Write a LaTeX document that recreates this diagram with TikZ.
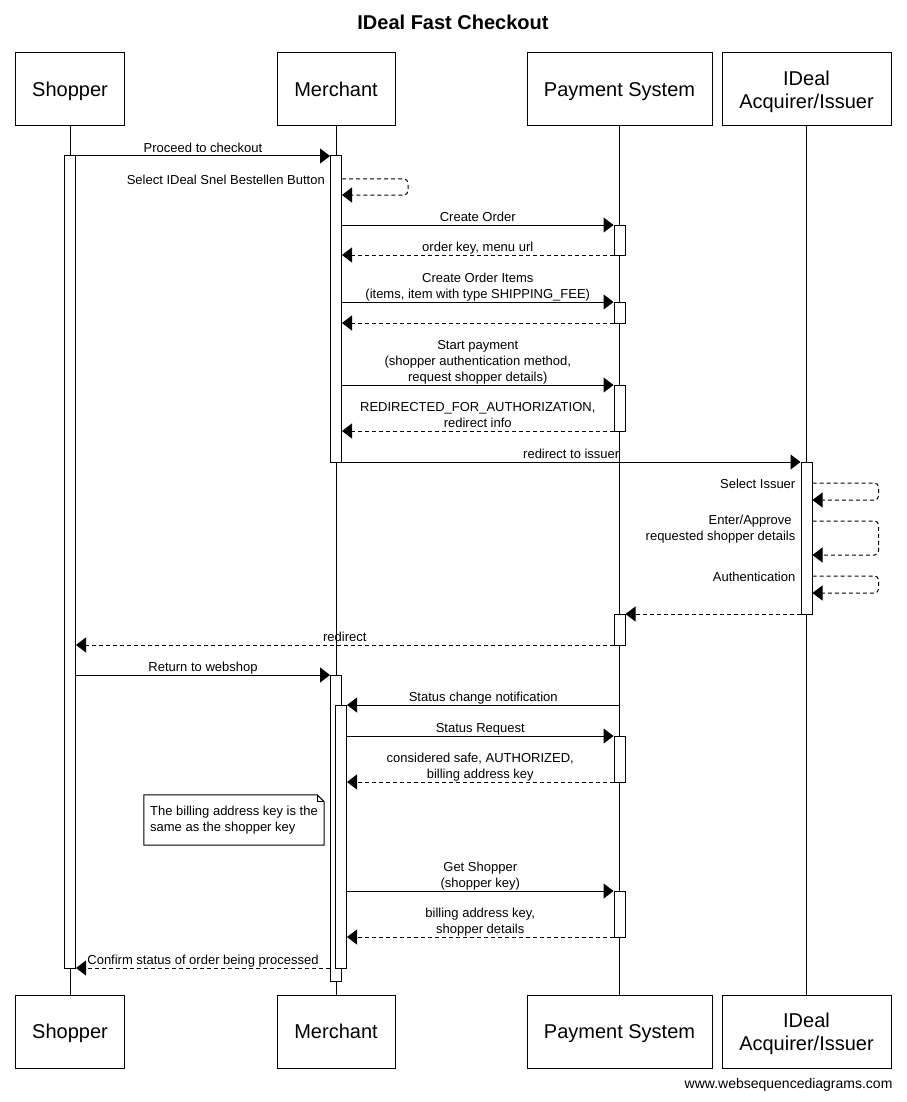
\documentclass[tikz,border=0pt]{standalone}
\usepackage{fontspec}
\setmainfont{Liberation Sans}
\usetikzlibrary{arrows.meta}
\usetikzlibrary{shapes}
\tikzset{
	actor/.style={draw, line width=1pt, minimum height=73pt, inner sep=0pt, align=center, font=\fontsize{20}{23}\selectfont},
	oneline/.style={text height=14.7pt, text depth=0.3pt},
	twoline/.style={yshift=-2pt},
	life/.style={line width=0.8pt},
	actbar/.style={draw, fill=white, line width=1pt, minimum width=11pt, inner sep=0pt},
	msg/.style={->, line width=1pt},
	ret/.style={->, line width=1pt, dash pattern=on 4pt off 3pt},
	lbl/.style={font=\fontsize{13}{16}\selectfont, align=center, anchor=south, inner sep=0pt, yshift=-2pt, execute at end node=\strut},
	slbl/.style={font=\fontsize{13}{16}\selectfont, align=right, anchor=north east, inner sep=0pt, xshift=-5pt, yshift=6.2pt, execute at begin node=\strut},
	note/.style={font=\fontsize{13}{16}\selectfont, align=left, minimum width=180pt, minimum height=50pt, inner sep=0pt}
}
\begin{document}
\begin{tikzpicture}[x=1pt,y=-1pt,line join=miter,>={Triangle[length=10pt,width=15pt]}]
	\fill[white] (0,0) rectangle (906,1102);
	\useasboundingbox (0,0) rectangle (906,1102);
	\node[font=\bfseries\fontsize{20}{24}\selectfont] (title) at (453,22) {IDeal Fast Checkout};
	\node[actor, oneline, minimum width=109pt] (shop) at (70,89.5) {Shopper};
	\node[actor, oneline, minimum width=118pt] (merch) at (336,89.5) {Merchant};
	\node[actor, oneline, minimum width=185pt] (pay) at (619.5,89.5) {Payment System};
	\node[actor, minimum width=169pt] (ideal) at (806.5,89.5) {};
	\node[actor, draw=none, twoline] (idealTxt) at (ideal) {IDeal\\Acquirer/Issuer};
	\node[actor, oneline, minimum width=109pt] (shopB) at (70,1031.5) {Shopper};
	\node[actor, oneline, minimum width=118pt] (merchB) at (336,1031.5) {Merchant};
	\node[actor, oneline, minimum width=185pt] (payB) at (619.5,1031.5) {Payment System};
	\node[actor, minimum width=169pt] (idealB) at (806.5,1031.5) {};
	\node[actor, draw=none, twoline] (idealBTxt) at (idealB) {IDeal\\Acquirer/Issuer};
	\foreach \p in {shop,merch,pay,ideal}
	\draw[life] (\p) -- (\p B);
	\node[actbar, minimum height=812pt] (aS) at (70,562) {};
	\node[actbar, minimum height=306pt] (aM1) at (336,309) {};
	\node[actbar, minimum height=30pt] (aP1) at (619.5,240) {};
	\node[actbar, minimum height=21pt] (aP2) at (619.5,312.5) {};
	\node[actbar, minimum height=46pt] (aP3) at (619.5,408) {};
	\node[actbar, minimum height=152pt] (aI) at (806.5,538) {};
	\node[actbar, minimum height=31pt] (aP4) at (619.5,629.5) {};
	\node[actbar, minimum height=306pt] (aM2) at (336,828) {};
	\node[actbar, minimum height=263pt] (aM3) at (341,836.5) {};
	\node[actbar, minimum height=46pt] (aP5) at (619.5,759) {};
	\node[actbar, minimum height=46pt] (aP6) at (619.5,914) {};
	\draw[msg] (aS.east |- 0,156) -- (aM1.west |- 0,156) node[lbl, midway] {Proceed to checkout};
	\draw[ret, rounded corners=4pt] (aM1.east |- 0,179) -- ++(66,0) -- ++(0,16) -- (aM1.east |- 0,195);
	\node[slbl] (selBtn) at (aM1.west |- 0,179) {Select IDeal Snel Bestellen Button};
	\draw[msg] (aM1.east |- 0,225) -- (aP1.west |- 0,225) node[lbl, midway] {Create Order};
	\draw[ret] (aP1.west |- 0,255) -- (aM1.east |- 0,255) node[lbl, midway] {order key, menu url};
	\draw[msg] (aM1.east |- 0,302) -- (aP2.west |- 0,302) node[lbl, midway] {Create Order Items\\(items, item with type SHIPPING\_FEE)};
	\draw[ret] (aP2.west |- 0,323) -- (aM1.east |- 0,323);
	\draw[msg] (aM1.east |- 0,385) -- (aP3.west |- 0,385) node[lbl, midway] {Start payment\\(shopper authentication method,\\request shopper details)};
	\draw[ret] (aP3.west |- 0,431) -- (aM1.east |- 0,431) node[lbl, midway] {REDIRECTED\_FOR\_AUTHORIZATION,\\redirect info};
	\draw[msg] (aM1.east |- 0,462) -- (aI.west |- 0,462) node[lbl, midway] {redirect to issuer};
	\draw[ret, rounded corners=4pt] (aI.east |- 0,483) -- ++(66,0) -- ++(0,17) -- (aI.east |- 0,500);
	\node[slbl] (selIss) at (aI.west |- 0,483) {Select Issuer};
	\draw[ret, rounded corners=4pt] (aI.east |- 0,521) -- ++(66,0) -- ++(0,34) -- (aI.east |- 0,555);
	\node[slbl] (approve) at (aI.west |- 0,521) {Enter/Approve\hspace*{3.6pt}\\requested shopper details};
	\draw[ret, rounded corners=4pt] (aI.east |- 0,576) -- ++(66,0) -- ++(0,17) -- (aI.east |- 0,593);
	\node[slbl] (auth) at (aI.west |- 0,576) {Authentication};
	\draw[ret] (aI.west |- 0,614) -- (aP4.east |- 0,614);
	\draw[ret] (aP4.west |- 0,645) -- (aS.east |- 0,645) node[lbl, midway] {redirect};
	\draw[msg] (aS.east |- 0,675) -- (aM2.west |- 0,675) node[lbl, midway] {Return to webshop};
	\draw[msg] (pay |- 0,705) -- (aM3.east |- 0,705) node[lbl, midway] {Status change notification};
	\draw[msg] (aM3.east |- 0,736) -- (aP5.west |- 0,736) node[lbl, midway] {Status Request};
	\draw[ret] (aP5.west |- 0,782) -- (aM3.east |- 0,782) node[lbl, midway] {considered safe, AUTHORIZED,\\billing address key};
	\node[note] (nt) at (234,820) {The billing address key is the\\same as the shopper key};
	\draw[line width=1pt] (nt.north west) -- ([xshift=-7pt]nt.north east) -- ([yshift=-7pt]nt.north east) -- (nt.south east) -- (nt.south west) -- cycle;
	\draw[line width=0.8pt] ([xshift=-7pt]nt.north east) |- ([yshift=-7pt]nt.north east);
	\draw[msg] (aM3.east |- 0,891) -- (aP6.west |- 0,891) node[lbl, midway] {Get Shopper\\(shopper key)};
	\draw[ret] (aP6.west |- 0,937) -- (aM3.east |- 0,937) node[lbl, midway] {billing address key,\\shopper details};
	\draw[ret] (aM2.west |- 0,968) -- (aS.east |- 0,968) node[lbl, midway] {Confirm status of order being processed};
	\node[font=\fontsize{14}{16}\selectfont, anchor=east] (wsd) at (896,1085) {www.websequencediagrams.com};
\end{tikzpicture}
\end{document}
